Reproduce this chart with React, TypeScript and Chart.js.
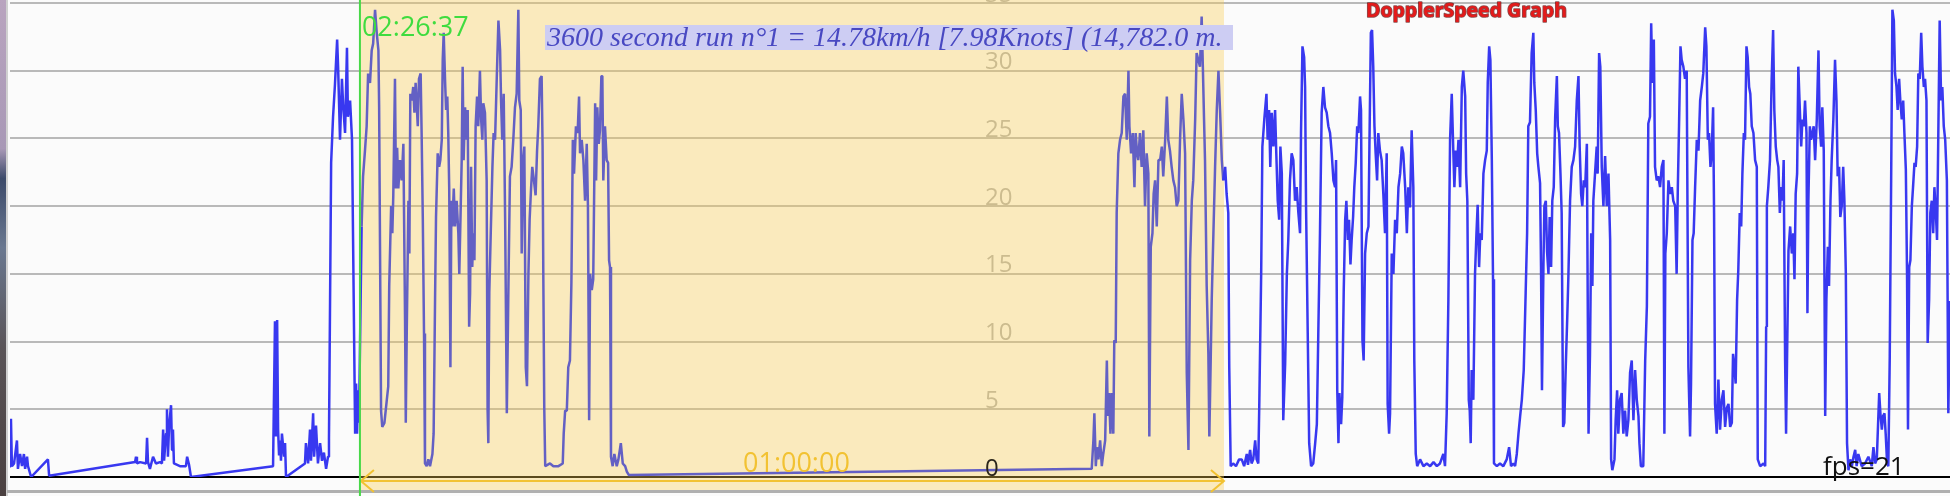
import React, { useEffect, useRef } from "react";
import { Chart, registerables } from "chart.js";

Chart.register(...registerables);

// ---- labels / constants ----
const TITLE = "DopplerSpeed Graph";
const SUMMARY = "3600 second run n°1 = 14.78km/h [7.98Knots] (14,782.0 m.";
const RUN_START_CLOCK = "02:26:37";
const RUN_DURATION_LABEL = "01:00:00";
const FPS_LABEL = "fps=21";
const Y_TICKS = [0, 5, 10, 15, 20, 25, 30, 35];
const RUN_START_S = 1458; // seconds from start of record
const RUN_LENGTH_S = 3600;
const RECORD_END_S = 8083;

// ---- speed trace: [seconds from record start, speed] ----
const PRE_RUN: [number, number][] = [
  [0, 0.8], [4, 4.3], [8, 0.8], [17, 1.0], [29, 2.7], [33, 0.6], [42, 1.7], [50, 0.8], [58, 1.7], [63, 0.6],
  [71, 1.5], [75, 0.8], [88, 0.0], [158, 1.3], [163, 0.1], [521, 1.1], [525, 1.5], [529, 1.0], [542, 1.1], [567, 1.0],
  [571, 2.9], [575, 1.1], [583, 0.6], [596, 1.5], [608, 1.0], [625, 1.1], [633, 1.0], [638, 3.5], [642, 1.2], [650, 3.2],
  [654, 5.0], [658, 1.5], [663, 3.8], [671, 5.3], [675, 2.0], [679, 3.5], [683, 1.0], [708, 0.8], [733, 0.8], [738, 1.5],
  [746, 0.9], [754, 0.0], [1096, 0.8], [1104, 11.5], [1108, 3.0], [1113, 11.6], [1117, 3.5], [1121, 1.6], [1125, 2.7], [1129, 1.2],
  [1133, 3.2], [1142, 1.5], [1146, 2.5], [1150, 0.0], [1229, 1.0], [1233, 2.5], [1242, 1.0], [1250, 3.5], [1254, 1.2], [1263, 4.7],
  [1267, 1.5], [1275, 3.8], [1283, 1.0], [1292, 2.5], [1300, 1.2], [1308, 1.8], [1317, 0.6], [1325, 1.5], [1329, 2.8], [1333, 11.8],
  [1338, 23.2], [1346, 26.6], [1354, 29.0], [1363, 32.3], [1367, 30.3], [1375, 24.9], [1383, 29.4], [1388, 27.5], [1396, 25.4], [1404, 31.7],
  [1408, 26.6], [1417, 27.8], [1425, 24.9], [1438, 3.2], [1442, 6.9], [1446, 3.2], [1450, 6.4], [1454, 4.0],
];

const RUN: [number, number][] = [
  [1465, 18.5], [1471, 22.2], [1479, 24.1], [1486, 25.9], [1492, 29.8], [1500, 29.1], [1507, 31.5], [1513, 32.0], [1521, 34.5], [1528, 32.8],
  [1535, 31.5], [1538, 27.3], [1546, 4.9], [1551, 3.7], [1560, 4.0], [1570, 5.7], [1576, 6.7], [1580, 14.1], [1588, 20.0], [1593, 18.0],
  [1597, 20.8], [1604, 29.4], [1608, 21.3], [1613, 24.3], [1618, 21.3], [1625, 23.4], [1632, 21.9], [1639, 24.6], [1646, 11.6], [1649, 4.0],
  [1653, 10.6], [1660, 20.4], [1664, 16.5], [1668, 28.3], [1674, 27.8], [1680, 28.8], [1685, 26.9], [1690, 29.1], [1699, 25.9], [1704, 29.4],
  [1711, 29.8], [1715, 25.4], [1720, 19.0], [1725, 10.6], [1729, 1.0], [1736, 0.8], [1743, 1.3], [1750, 0.8], [1760, 1.7], [1765, 3.2],
  [1771, 13.1], [1775, 19.2], [1782, 23.9], [1788, 22.9], [1793, 23.4], [1799, 24.9], [1803, 30.8], [1807, 32.8], [1813, 29.1], [1817, 27.1],
  [1822, 28.1], [1826, 25.4], [1830, 21.3], [1835, 8.1], [1839, 20.4], [1843, 18.5], [1849, 21.3], [1854, 18.5], [1861, 20.4], [1868, 18.0],
  [1872, 15.0], [1878, 20.0], [1882, 23.4], [1886, 30.3], [1890, 23.4], [1896, 27.3], [1903, 24.9], [1907, 27.1], [1913, 11.1], [1917, 13.6],
  [1921, 22.9], [1926, 15.5], [1930, 18.0], [1935, 16.0], [1940, 25.9], [1946, 28.1], [1951, 25.9], [1958, 30.0], [1963, 26.4], [1968, 24.9],
  [1972, 27.6], [1979, 26.9], [1986, 21.9], [1990, 4.9], [1993, 2.5], [1997, 13.6], [2003, 18.0], [2010, 22.9], [2015, 25.4], [2021, 24.9],
  [2028, 29.4], [2035, 33.7], [2042, 31.5], [2046, 27.8], [2051, 24.9], [2057, 28.3], [2063, 19.0], [2070, 4.7], [2076, 13.1], [2083, 22.2],
  [2090, 22.9], [2097, 24.9], [2104, 27.3], [2111, 28.3], [2118, 34.5], [2122, 27.8], [2128, 27.1], [2132, 16.5], [2138, 23.4], [2143, 24.4],
  [2149, 8.1], [2154, 6.7], [2160, 15.0], [2165, 19.0], [2171, 21.3], [2176, 22.9], [2183, 21.9], [2190, 20.8], [2196, 24.1], [2201, 25.9],
  [2208, 29.4], [2215, 29.6], [2219, 24.4], [2222, 15.0], [2226, 5.1], [2230, 0.8], [2250, 1.0], [2264, 0.8], [2285, 0.8], [2303, 1.0],
  [2307, 3.2], [2313, 4.9], [2320, 4.9], [2326, 8.1], [2333, 8.6], [2339, 14.3], [2345, 24.9], [2350, 22.4], [2358, 25.9], [2365, 25.4],
  [2371, 28.1], [2375, 23.9], [2382, 24.9], [2389, 23.4], [2396, 20.4], [2403, 24.6], [2408, 20.0], [2413, 4.2], [2417, 15.0], [2424, 13.8],
  [2430, 14.6], [2438, 27.6], [2442, 21.9], [2447, 27.3], [2453, 24.6], [2458, 25.6], [2464, 29.6], [2468, 29.6], [2472, 21.9], [2479, 25.9],
  [2486, 23.4], [2492, 23.2], [2496, 16.0], [2500, 15.5], [2504, 1.5], [2511, 0.8], [2518, 1.7], [2528, 0.8], [2535, 1.3], [2545, 2.5],
  [2553, 1.0], [2563, 0.8], [2570, 0.4], [2578, 0.15], [4507, 0.6], [4514, 2.7], [4518, 4.7], [4524, 0.8], [4529, 2.2], [4535, 1.3],
  [4542, 2.7], [4549, 0.8], [4555, 1.7], [4563, 2.7], [4570, 8.6], [4574, 4.5], [4579, 6.2], [4585, 3.2], [4590, 6.2], [4597, 3.2],
  [4601, 10.1], [4607, 9.9], [4611, 19.5], [4618, 23.9], [4625, 24.9], [4632, 25.4], [4639, 28.1], [4646, 28.3], [4653, 24.9], [4660, 30.0],
  [4664, 25.9], [4671, 23.9], [4678, 25.4], [4685, 21.4], [4690, 25.4], [4696, 23.9], [4701, 23.4], [4708, 25.4], [4715, 22.9], [4722, 25.6],
  [4729, 20.0], [4736, 23.9], [4743, 22.4], [4747, 3.0], [4753, 17.0], [4760, 18.0], [4765, 20.9], [4771, 21.9], [4778, 18.5], [4785, 23.4],
  [4792, 23.4], [4799, 24.4], [4805, 22.2], [4813, 24.9], [4820, 28.1], [4826, 24.9], [4833, 24.1], [4840, 22.9], [4847, 21.9], [4854, 21.4],
  [4861, 20.0], [4868, 20.4], [4875, 24.9], [4882, 28.3], [4889, 26.4], [4896, 23.9], [4903, 7.7], [4910, 2.0], [4917, 16.0], [4924, 20.4],
  [4930, 21.9], [4938, 26.4], [4944, 31.3], [4951, 30.8], [4958, 30.3], [4965, 34.0], [4970, 30.3], [4975, 26.4], [4979, 23.4], [4986, 14.1],
  [4993, 9.1], [4997, 3.0], [5003, 8.9], [5007, 13.1], [5014, 18.0], [5021, 22.9], [5028, 27.1], [5035, 30.0], [5042, 26.9], [5049, 23.4],
  [5055, 21.9],
];

const POST_RUN_A: [number, number][] = [
  [5063, 22.9], [5069, 20.9], [5076, 19.5], [5080, 8.1], [5086, 0.8], [5096, 1.0], [5108, 0.8], [5121, 1.3], [5132, 1.3], [5142, 0.8],
  [5153, 1.7], [5158, 0.9], [5167, 2.0], [5173, 1.0], [5180, 1.3], [5188, 2.7], [5194, 1.3], [5201, 1.0], [5205, 5.2], [5213, 15.0],
  [5218, 24.4], [5226, 26.4], [5235, 28.3], [5240, 24.9], [5246, 27.1], [5251, 22.9], [5257, 26.9], [5264, 24.4], [5271, 27.1], [5276, 23.9],
  [5282, 20.4], [5288, 19.0], [5293, 24.4], [5299, 22.4], [5305, 4.2], [5313, 8.4], [5320, 15.0], [5326, 17.5], [5333, 21.9], [5340, 23.9],
  [5347, 23.4], [5354, 20.4], [5361, 21.4], [5368, 19.5], [5375, 18.0], [5379, 25.4], [5385, 31.8], [5392, 31.0], [5396, 28.8], [5400, 20.0],
  [5407, 10.6], [5413, 2.5], [5421, 0.8], [5430, 1.0], [5438, 2.5], [5445, 3.9], [5451, 10.6], [5458, 18.0], [5465, 26.9], [5472, 28.8],
  [5479, 27.3], [5486, 26.9], [5493, 25.9], [5500, 25.4], [5507, 23.9], [5514, 21.9], [5521, 21.4], [5525, 23.4], [5530, 6.4], [5535, 2.5],
  [5539, 6.2], [5546, 3.9], [5551, 5.9], [5557, 13.8], [5563, 19.0], [5568, 20.4], [5574, 17.5], [5579, 19.0], [5585, 15.7], [5590, 17.5],
  [5596, 19.2], [5601, 21.4], [5607, 23.2], [5613, 25.9], [5618, 25.4], [5625, 28.1], [5629, 27.1], [5635, 10.1], [5640, 8.6], [5646, 16.5],
  [5653, 18.0], [5660, 18.5], [5664, 24.4], [5670, 32.8], [5675, 33.0], [5680, 30.3], [5685, 25.9], [5690, 23.9], [5696, 21.9], [5701, 25.4],
  [5708, 24.1], [5715, 23.4], [5722, 20.9], [5729, 18.0], [5736, 23.9], [5740, 5.4], [5746, 3.2], [5750, 4.7], [5757, 16.5], [5764, 15.0],
  [5771, 19.0], [5778, 18.0], [5785, 21.4], [5792, 22.4], [5799, 24.4], [5805, 23.9], [5813, 21.4], [5820, 18.0], [5826, 21.4], [5833, 19.9],
  [5840, 25.6], [5847, 21.4], [5851, 8.6], [5857, 1.7], [5863, 0.8], [5875, 1.3], [5889, 0.8], [5903, 1.0], [5917, 0.8], [5931, 1.1],
  [5945, 0.8], [5958, 1.0], [5972, 1.7], [5979, 0.8], [5986, 4.7], [5993, 13.1], [6000, 24.9], [6007, 28.3], [6013, 24.4], [6018, 21.4],
  [6024, 24.1], [6029, 22.9], [6035, 24.9], [6042, 21.4], [6049, 28.8], [6055, 30.0], [6063, 28.1], [6067, 22.4], [6072, 20.4], [6078, 5.7],
  [6082, 4.9], [6086, 2.5], [6090, 7.9], [6097, 5.7], [6104, 15.0], [6110, 18.0], [6115, 20.1], [6121, 15.5], [6126, 18.0], [6132, 17.5],
  [6139, 22.4], [6146, 23.4], [6153, 24.1], [6157, 29.1], [6163, 31.8], [6168, 30.8], [6174, 23.4], [6179, 14.6], [6183, 1.0], [6195, 0.8],
  [6208, 1.0], [6222, 0.8], [6236, 1.3], [6246, 2.2], [6254, 0.8], [6264, 1.0], [6271, 0.8], [6278, 1.7], [6285, 3.2], [6292, 4.5],
  [6299, 5.7], [6307, 7.9], [6315, 13.6], [6321, 18.0], [6326, 25.9], [6333, 26.2], [6340, 31.3], [6347, 32.8], [6351, 29.1], [6357, 27.1],
  [6363, 23.9], [6368, 22.9], [6375, 21.7], [6379, 15.5], [6383, 6.4], [6389, 15.5], [6393, 20.0], [6399, 20.4], [6404, 16.7], [6410, 15.0],
  [6415, 19.2], [6421, 15.5], [6426, 20.4], [6432, 21.4], [6438, 26.6], [6445, 29.6], [6449, 25.9], [6454, 25.4], [6460, 22.4], [6465, 19.5],
  [6471, 3.7], [6476, 4.0], [6482, 8.1], [6488, 11.6], [6493, 14.8], [6500, 20.4], [6507, 22.9], [6514, 23.4], [6521, 24.4], [6528, 27.8],
  [6535, 29.6], [6540, 24.4], [6546, 20.9], [6551, 20.0], [6557, 21.9], [6563, 21.4], [6570, 24.6], [6574, 11.8], [6577, 3.2],
];

const POST_RUN_B: [number, number][] = [
  [6583, 9.1], [6588, 18.0], [6593, 14.1], [6597, 20.4], [6604, 22.4], [6611, 24.4], [6615, 22.4], [6621, 31.3], [6626, 30.3], [6632, 22.9],
  [6639, 20.0], [6646, 23.7], [6653, 20.0], [6660, 22.4], [6667, 17.5], [6671, 1.3], [6676, 0.5], [6685, 1.3], [6690, 4.2], [6696, 6.4],
  [6701, 3.2], [6708, 5.7], [6715, 6.2], [6722, 3.2], [6729, 4.9], [6736, 3.0], [6743, 4.2], [6750, 7.7], [6757, 8.6], [6764, 4.2],
  [6771, 7.9], [6778, 5.7], [6785, 4.5], [6789, 2.5], [6795, 0.8], [6805, 0.8], [6813, 8.6], [6820, 12.6], [6826, 26.1], [6833, 26.6],
  [6838, 33.5], [6843, 29.1], [6849, 32.3], [6854, 22.9], [6861, 21.9], [6868, 22.2], [6875, 21.4], [6882, 22.9], [6889, 23.4], [6893, 3.2],
  [6897, 16.5], [6903, 18.0], [6910, 21.9], [6917, 20.9], [6924, 21.4], [6930, 20.4], [6938, 20.0], [6944, 15.0], [6949, 21.4], [6954, 25.9],
  [6960, 31.8], [6965, 30.8], [6972, 30.3], [6979, 29.4], [6986, 30.0], [6993, 8.1], [7000, 3.0], [7004, 6.9], [7010, 17.5], [7015, 18.0],
  [7021, 21.4], [7028, 24.9], [7035, 24.1], [7042, 27.8], [7049, 28.8], [7055, 29.8], [7063, 33.2], [7068, 31.8], [7074, 24.9], [7079, 25.4],
  [7085, 22.9], [7090, 23.9], [7096, 27.3], [7100, 19.5], [7104, 5.4], [7111, 3.2], [7118, 7.2], [7125, 3.5], [7132, 5.7], [7139, 6.4],
  [7146, 3.7], [7153, 5.1], [7160, 5.4], [7167, 3.7], [7174, 4.0], [7179, 9.1], [7185, 8.1], [7190, 6.9], [7196, 13.1], [7201, 15.3],
  [7207, 19.5], [7213, 18.5], [7218, 22.4], [7224, 25.4], [7229, 24.9], [7235, 31.8], [7240, 31.0], [7246, 28.8], [7251, 28.3], [7257, 25.9],
  [7264, 25.4], [7271, 23.4], [7278, 22.9], [7282, 1.3], [7292, 0.8], [7306, 1.0], [7313, 0.8], [7317, 11.1], [7320, 20.0], [7326, 21.4],
  [7333, 23.4], [7340, 29.4], [7346, 33.0], [7351, 27.1], [7357, 24.4], [7363, 23.4], [7368, 22.9], [7374, 19.5], [7379, 21.4], [7385, 20.4],
  [7390, 23.4], [7396, 8.6], [7400, 3.2], [7404, 8.6], [7410, 16.7], [7417, 18.5], [7424, 16.5], [7430, 18.0], [7435, 14.6], [7440, 20.9],
  [7446, 22.4], [7451, 30.3], [7457, 27.3], [7463, 24.4], [7468, 26.4], [7474, 25.9], [7479, 27.8], [7485, 25.4], [7489, 12.1], [7493, 20.4],
  [7499, 25.9], [7504, 24.9], [7510, 25.4], [7515, 25.9], [7521, 23.4], [7528, 26.4], [7535, 31.5], [7540, 25.9], [7546, 24.4], [7551, 27.3],
  [7557, 24.1], [7563, 4.5], [7568, 13.1], [7574, 17.0], [7579, 14.1], [7585, 20.4], [7590, 23.4], [7597, 26.4], [7604, 30.8], [7610, 27.8],
  [7615, 22.2], [7621, 22.9], [7626, 19.2], [7632, 20.0], [7638, 22.9], [7643, 20.4], [7649, 15.0], [7654, 2.5], [7660, 0.5], [7667, 1.3],
  [7674, 0.8], [7681, 1.5], [7688, 2.0], [7694, 0.8], [7701, 1.7], [7715, 0.8], [7729, 1.0], [7743, 1.5], [7757, 0.8], [7764, 2.2],
  [7771, 1.0], [7778, 1.3], [7788, 6.2], [7793, 4.7], [7799, 3.5], [7804, 4.5], [7810, 4.7], [7815, 3.2], [7821, 1.0], [7826, 0.8],
  [7832, 8.9], [7838, 22.4], [7843, 34.5], [7849, 33.7], [7854, 29.8], [7860, 28.8], [7865, 27.1], [7871, 29.4], [7876, 27.8], [7882, 26.4],
  [7888, 27.8], [7893, 25.4], [7899, 22.7], [7904, 15.0], [7908, 3.5], [7913, 15.5], [7918, 16.0], [7924, 20.0], [7929, 21.4], [7935, 23.2],
  [7940, 22.9], [7946, 24.4], [7951, 29.8], [7957, 29.4], [7963, 32.8], [7968, 30.3], [7974, 28.8], [7979, 29.4], [7985, 27.8], [7990, 9.9],
  [7996, 13.1], [8001, 19.5], [8007, 20.4], [8013, 18.0], [8018, 21.4], [8024, 19.5], [8029, 17.5], [8035, 26.4], [8040, 33.7], [8046, 27.8],
  [8051, 28.8], [8057, 25.9], [8063, 24.9], [8070, 21.9], [8076, 4.7], [8083, 13.0],
];

// ---- styling ----
const LINE_BLUE = "#3838f0";
const LINE_IN_RUN = "#6360c4";
const GRID_GRAY = "#b9b9b9";

const inRun = (t: number) => t >= RUN_START_S && t <= RUN_START_S + RUN_LENGTH_S;

const decorPlugin = {
  id: "decor",
  beforeDraw(chart: any) {
    const { ctx, width, height } = chart;
    ctx.save();
    ctx.fillStyle = "#fbfbfb";
    ctx.fillRect(0, 0, width, height);
    const g = ctx.createLinearGradient(0, 0, 0, height);
    g.addColorStop(0, "#b9a4bf");
    g.addColorStop(0.3, "#a898b6");
    g.addColorStop(0.36, "#3c4a6a");
    g.addColorStop(0.5, "#6a7890");
    g.addColorStop(0.7, "#5a5458");
    g.addColorStop(1, "#4a4040");
    ctx.fillStyle = g;
    ctx.fillRect(0, 0, 6, height);
    ctx.fillStyle = "#d0d0d0";
    ctx.fillRect(6, 0, 2, height);
    ctx.fillStyle = "#b0b0b0";
    ctx.fillRect(7, 490, width - 7, 3);
    ctx.restore();
  },
  beforeDatasetsDraw(chart: any) {
    const { ctx } = chart;
    const x = chart.scales.x;
    const y = chart.scales.y;
    ctx.save();
    ctx.font = '24px "Open Sans"';
    ctx.textBaseline = "alphabetic";
    ctx.textAlign = "left";
    ctx.fillStyle = "#b2b2b2";
    for (const v of Y_TICKS) {
      if (v === 0) continue;
      ctx.fillText(String(v), 985, y.getPixelForValue(v) - 1.5);
    }
    const x0 = x.getPixelForValue(RUN_START_S);
    const x1 = x.getPixelForValue(RUN_START_S + RUN_LENGTH_S);
    ctx.fillStyle = "rgba(250,205,80,0.36)";
    ctx.fillRect(x0, 0, x1 - x0, 490);
    ctx.restore();
  },
  afterDatasetsDraw(chart: any) {
    const { ctx, height } = chart;
    const x = chart.scales.x;
    const y = chart.scales.y;
    const x0 = x.getPixelForValue(RUN_START_S);
    const x1 = x.getPixelForValue(RUN_START_S + RUN_LENGTH_S);
    ctx.save();

    // zero tick label
    ctx.font = '24px "Open Sans"';
    ctx.fillStyle = "#2c261a";
    ctx.textBaseline = "alphabetic";
    ctx.fillText("0", 985, y.getPixelForValue(0) - 1);

    // run duration arrow
    ctx.strokeStyle = "#f2c232";
    ctx.lineWidth = 2;
    ctx.beginPath();
    ctx.moveTo(x0, 481);
    ctx.lineTo(x1, 481);
    ctx.moveTo(x0 + 14, 470);
    ctx.lineTo(x0 + 1, 481);
    ctx.lineTo(x0 + 14, 492);
    ctx.moveTo(x1 - 13, 470);
    ctx.lineTo(x1, 481);
    ctx.lineTo(x1 - 13, 492);
    ctx.stroke();

    // run start marker
    ctx.fillStyle = "#48d848";
    ctx.fillRect(x0 - 1, 0, 2, height);
    ctx.font = '27px "Open Sans"';
    ctx.fillStyle = "#3fdc3f";
    ctx.fillText(RUN_START_CLOCK, x0 + 2, 36);

    // duration label
    ctx.fillStyle = "#f2c232";
    ctx.fillText(RUN_DURATION_LABEL, 743, 472);

    // summary box
    let size = 28;
    ctx.font = `italic ${size}px "Liberation Serif"`;
    const w = ctx.measureText(SUMMARY).width;
    size = (size * 676) / w;
    ctx.font = `italic ${size}px "Liberation Serif"`;
    ctx.fillStyle = "#cdcdf3";
    ctx.fillRect(545, 25, 688, 25);
    ctx.fillStyle = "#4848c2";
    ctx.fillText(SUMMARY, 547, 46);

    // title
    ctx.font = 'bold 19.5px "Open Sans"';
    ctx.lineJoin = "round";
    ctx.strokeStyle = "rgba(90,0,0,0.7)";
    ctx.lineWidth = 1.6;
    ctx.strokeText(TITLE, 1366, 17);
    ctx.fillStyle = "#e41a1a";
    ctx.fillText(TITLE, 1366, 17);

    // fps
    ctx.font = '26px "Open Sans"';
    ctx.fillStyle = "#111111";
    ctx.fillText(FPS_LABEL, 1823, 475);

    ctx.restore();
  },
};

export default function App() {
  const ref = useRef<HTMLCanvasElement>(null);
  useEffect(() => {
    document.body.style.margin = "0";
    const points = [...PRE_RUN, ...RUN, ...POST_RUN_A, ...POST_RUN_B].map(([t, v]) => ({ x: t, y: v }));
    const chart = new Chart(ref.current as HTMLCanvasElement, {
      type: "line",
      data: {
        datasets: [
          {
            data: points,
            borderColor: LINE_BLUE,
            borderWidth: 2.5,
            pointRadius: 0,
            tension: 0,
            borderJoinStyle: "bevel",
            segment: {
              borderColor: (c: any) => (inRun(c.p0.parsed.x) && inRun(c.p1.parsed.x) ? LINE_IN_RUN : undefined),
            },
          } as any,
        ],
      },
      options: {
        animation: false,
        responsive: false,
        devicePixelRatio: 1,
        events: [],
        layout: { padding: { left: 10, right: 0, top: 3, bottom: 19 } },
        plugins: { legend: { display: false }, tooltip: { enabled: false }, title: { display: false } },
        scales: {
          x: { type: "linear", min: 0, max: RECORD_END_S, display: false },
          y: {
            min: 0,
            max: 35,
            ticks: { display: false, stepSize: 5 },
            border: { display: false },
            grid: {
              drawTicks: false,
              lineWidth: 2,
              color: (c: any) => (c.tick && c.tick.value === 0 ? "#000000" : GRID_GRAY),
            },
          },
        },
      },
      plugins: [decorPlugin],
    });
    return () => chart.destroy();
  }, []);
  return (
    <div style={{ position: "fixed", left: 0, top: 0, width: 1950, height: 496, overflow: "hidden" }}>
      <canvas ref={ref} width={1950} height={496} style={{ display: "block", width: 1950, height: 496 }} />
    </div>
  );
}
